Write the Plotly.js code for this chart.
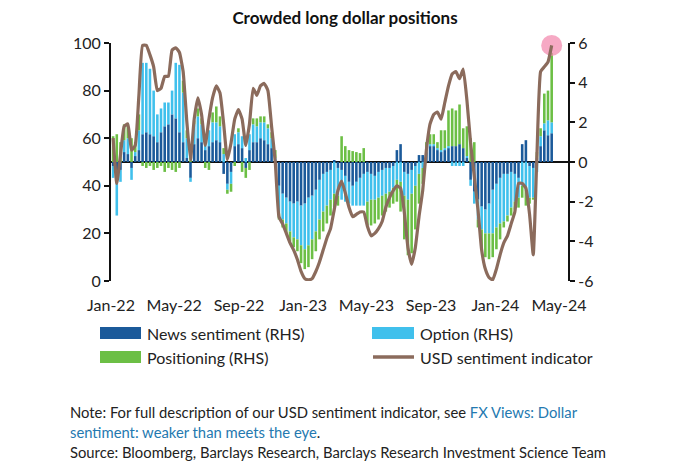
<!DOCTYPE html>
<html><head><meta charset="utf-8">
<script src="https://cdn.plot.ly/plotly-3.0.1.min.js"></script>
<style>html,body{margin:0;padding:0;background:#fff}#chart{width:697px;height:466px}</style>
</head><body><div id="chart"></div>
<script>
// weekly observations starting this date
const startDate = [2022, 0, 5];
const usdSentiment = [60,41,53,65,66,55,57,78,99,99,
 95,90,80,81,86,86,97,98,96,88,
 67,51,68,77,70,57,68,77,82,79,
 66,51,58,68,72,68,57,66,81,78,
 82,83,80,65,50,27,24,20,16,13,
 9,4,1,0.5,1,4,8,13,18,22,
 30,38,42,37,31,27,28,29,29,23,
 19,20,22,25,31,35,38,40,39,29,
 14,7,14,27,38,55,66,70,71,68,
 75,82,87,88,85,89,76,58,44,30,
 13,5,1.5,0.5,5,11,16,19,24,29,
 41,41,39,28,11,53,88,90,92,99];
const newsSentiment = [-0.2,-0.5,-0.4,0.5,0.4,-0.3,0.3,0.6,1.4,1.5,
 1.4,1.3,1.0,1.5,1.8,1.9,2.4,2.2,1.5,1.0,
 0.2,-0.8,0.9,1.2,1.0,0.6,0.8,1.0,1.1,1.0,
 -0.6,-1.1,-0.5,0.8,0.9,0.7,-0.3,0.6,1.0,1.0,
 1.2,1.1,0.9,0.7,0.1,-1.2,-1.6,-1.8,-2.0,-2.1,
 -2.0,-2.2,-2.1,-1.8,-1.7,-1.4,-0.9,-0.6,-0.5,-0.4,
 0.1,-0.3,-0.4,-0.7,-1.0,-1.2,-1.0,-0.8,-0.6,-0.5,
 -0.6,-0.7,-0.5,-0.4,-0.3,-0.3,-0.2,0.6,0.9,-0.5,
 -0.6,-0.4,-0.2,0.35,0.35,0.5,0.8,0.8,0.6,0.5,
 0.6,0.7,0.8,0.8,0.9,0.7,0.2,-0.9,-1.5,-1.9,
 -2.25,-2.4,-2.1,-1.4,-1.1,-0.8,-0.6,-0.6,-0.5,-0.6,
 -0.8,0.9,1.1,-0.2,-0.3,0.2,0.8,1.6,1.35,1.45];
const optionSentiment = [-0.6,-2.2,-0.6,0.6,0.8,-0.6,0.2,1.0,3.6,3.5,
 3.3,2.3,1.4,1.2,1.2,1.1,1.2,2.8,3.4,2.5,
 1.0,-0.2,1.0,1.1,0.9,0.3,0.8,1.0,0.9,0.8,
 0.4,-0.3,-0.6,0.6,0.6,0.6,0.2,0.8,0.9,0.8,
 0.8,0.9,0.8,0.5,0.1,-1.4,-1.3,-1.3,-1.5,-1.7,
 -1.9,-2.0,-2.3,-2.4,-2.2,-2.1,-2.0,-1.9,-1.7,-1.5,
 -1.6,-1.4,-1.5,-1.3,-1.1,-1.0,-1.2,-1.4,-1.6,-1.5,
 -1.3,-1.2,-1.3,-1.3,-1.3,-1.2,-1.1,-0.9,-1.0,-1.2,
 -1.3,-1.2,-1.0,-0.6,-0.3,0.1,0.1,0.1,0.1,0.1,
 0.1,0.1,-0.2,-0.2,-0.2,-0.2,0.1,-0.3,-0.6,-1.0,
 -1.15,-1.2,-1.5,-2.2,-2.2,-2.3,-2.4,-2.1,-1.8,-1.4,
 -1.0,-1.2,-1.4,-1.6,-1.5,-0.5,0.5,0.35,0.75,0.55];
const positioning = [1.3,1.4,1.0,0.8,0.7,1.2,0.5,0.8,-0.2,-0.3,
 -0.2,-0.4,-0.3,-0.2,-0.5,-0.3,-0.4,-0.5,-0.3,0.6,
 0.4,0.3,0.2,0.4,0.3,-0.3,-0.4,0.5,0.8,0.5,
 0.3,-0.2,-0.4,-0.2,0.2,-0.5,-0.5,-0.4,0.3,0.4,
 0.3,0.3,0.2,0.3,0.4,-0.3,-0.4,-0.5,-0.5,-0.5,
 -0.6,-0.9,-1.0,-1.1,-1.0,-1.0,-1.0,-1.0,-0.9,-0.8,
 -0.7,-0.5,1.3,0.8,0.6,0.55,0.5,0.45,0.7,-1.2,
 -1.3,-1.2,-1.1,-1.0,-0.9,-0.8,-0.8,-1.1,-1.5,-2.2,
 -2.8,-3.0,-2.2,-1.5,-0.8,0.4,0.5,0.5,0.3,1.0,
 0.9,1.8,1.9,1.8,2.0,1.0,1.5,1.2,1.0,-0.4,
 -0.9,-1.2,-1.3,-1.2,-1.1,-0.8,-0.3,-0.3,-0.4,-0.4,
 -0.5,-0.6,-0.8,-0.3,-0.1,0.3,0.4,1.5,1.5,3.5];
const xTickDates = ['2022-01-01','2022-05-01','2022-09-01','2023-01-01','2023-05-01','2023-09-01','2024-01-01','2024-05-01'];
const xTickLabels = ['Jan-22','May-22','Sep-22','Jan-23','May-23','Sep-23','Jan-24','May-24'];
const lhsTicks = [0,20,40,60,80,100];
const rhsTicks = [-6,-4,-2,0,2,4,6];
const rhsTickText = ['-6','-4','-2','0','2','4','6'];
const seriesNames = ['News sentiment (RHS)','Option (RHS)','Positioning (RHS)','USD sentiment indicator'];
const colors = {news:'#1b5a9a', option:'#40c0ec', pos:'#6cbf45', usd:'#8b6b5c'};

const t0 = Date.UTC(startDate[0], startDate[1], startDate[2]);
const dates = usdSentiment.map((_, i) => new Date(t0 + i*7*864e5).toISOString().slice(0,10));

// pixel helpers for layout (plot area: x 111..568, y 43..281)
const W = 697, H = 466, L = 111, R = 568, T = 43, B = 281;
const px = v => (v - L) / (R - L);
const py = v => (B - v) / (B - T);
const FONT = 'Lato, "Noto Sans", sans-serif';
const xRange = ['2022-01-01','2024-05-18'];

const traces = [
  {type:'bar', name:seriesNames[0], x:dates, y:newsSentiment, marker:{color:colors.news}, yaxis:'y', xaxis:'x'},
  {type:'bar', name:seriesNames[1], x:dates, y:optionSentiment, marker:{color:colors.option}, yaxis:'y', xaxis:'x'},
  {type:'bar', name:seriesNames[2], x:dates, y:positioning, marker:{color:colors.pos}, yaxis:'y', xaxis:'x'},
  {type:'scatter', mode:'markers', x:[dates[dates.length-1]], y:[usdSentiment[usdSentiment.length-1]], yaxis:'y2', xaxis:'x',
   marker:{size:21, color:'rgba(243,140,176,0.75)'}, hoverinfo:'skip', showlegend:false, cliponaxis:false},
  {type:'scatter', mode:'lines', name:seriesNames[3], x:dates, y:usdSentiment, yaxis:'y2', xaxis:'x',
   line:{color:colors.usd, width:3.2, shape:'spline', smoothing:0.4}, cliponaxis:false}
];

const blue = '#2479b0';
const r1 = 333, r2 = 357;
const layout = {
  width:W, height:H, paper_bgcolor:'#fff', plot_bgcolor:'rgba(0,0,0,0)',
  margin:{l:L, r:W-R, t:T, b:H-B, pad:0},
  font:{family:FONT, color:'#222', size:16},
  showlegend:false,
  barmode:'relative', bargap:0.3,
  title:{text:'<b>Crowded long dollar positions</b>', x:345/W, xanchor:'center', y:1-18/H, yanchor:'middle',
         font:{family:FONT, size:17, color:'#111'}},
  xaxis:{type:'date', range:xRange, tickvals:xTickDates, ticktext:xTickLabels, ticks:'', showline:false,
         showgrid:false, zeroline:false, tickfont:{size:16, color:'#222'}, ticklabelstandoff:13},
  xaxis2:{type:'date', range:xRange, overlaying:'x', anchor:'free', position:0.5, tickvals:xTickDates,
          showticklabels:false, ticks:'outside', ticklen:4, tickwidth:1.5, tickcolor:'#111',
          showline:false, showgrid:false, zeroline:false},
  yaxis:{side:'right', range:[-6,6], tickvals:rhsTicks, ticktext:rhsTickText, ticks:'outside', ticklen:5, tickwidth:2,
         tickcolor:'#111', showline:true, linecolor:'#111', linewidth:2, showgrid:false,
         zeroline:true, zerolinecolor:'#111', zerolinewidth:1.5, tickfont:{size:16, color:'#222'}},
  yaxis2:{side:'left', overlaying:'y', range:[0,100], tickvals:lhsTicks, ticks:'outside', ticklen:5, tickwidth:2,
          tickcolor:'#111', showline:true, linecolor:'#111', linewidth:2, showgrid:false, zeroline:false,
          tickfont:{size:16, color:'#222'}},
  shapes:[
    {type:'rect', xref:'paper', yref:'paper', x0:px(100), x1:px(141), y0:py(r1-6), y1:py(r1+6), fillcolor:colors.news, line:{width:0}},
    {type:'rect', xref:'paper', yref:'paper', x0:px(372), x1:px(414), y0:py(r1-6), y1:py(r1+6), fillcolor:colors.option, line:{width:0}},
    {type:'rect', xref:'paper', yref:'paper', x0:px(100), x1:px(141), y0:py(r2-6), y1:py(r2+6), fillcolor:colors.pos, line:{width:0}},
    {type:'line', xref:'paper', yref:'paper', x0:px(373), x1:px(414), y0:py(r2), y1:py(r2), line:{color:colors.usd, width:3.5}}
  ],
  annotations:[
    {xref:'paper', yref:'paper', x:px(145), y:py(r1), xanchor:'left', yanchor:'middle', showarrow:false, text:seriesNames[0], font:{size:16}},
    {xref:'paper', yref:'paper', x:px(418), y:py(r1), xanchor:'left', yanchor:'middle', showarrow:false, text:seriesNames[1], font:{size:16}},
    {xref:'paper', yref:'paper', x:px(145), y:py(r2), xanchor:'left', yanchor:'middle', showarrow:false, text:seriesNames[2], font:{size:16}},
    {xref:'paper', yref:'paper', x:px(418), y:py(r2), xanchor:'left', yanchor:'middle', showarrow:false, text:seriesNames[3], font:{size:16}},
    {xref:'paper', yref:'paper', x:px(68), y:py(412), xanchor:'left', yanchor:'middle', showarrow:false, align:'left',
     text:'Note: For full description of our USD sentiment indicator, see <span style="color:'+blue+'">FX Views: Dollar</span>', font:{size:14.8}},
    {xref:'paper', yref:'paper', x:px(68), y:py(432), xanchor:'left', yanchor:'middle', showarrow:false, align:'left',
     text:'<span style="color:'+blue+'">sentiment: weaker than meets the eye</span>.', font:{size:14.8}},
    {xref:'paper', yref:'paper', x:px(68), y:py(452), xanchor:'left', yanchor:'middle', showarrow:false, align:'left',
     text:'Source: Bloomberg, Barclays Research, Barclays Research Investment Science Team', font:{size:14.8}}
  ]
};
Plotly.newPlot('chart', traces, layout, {displayModeBar:false, staticPlot:true});
</script></body></html>
